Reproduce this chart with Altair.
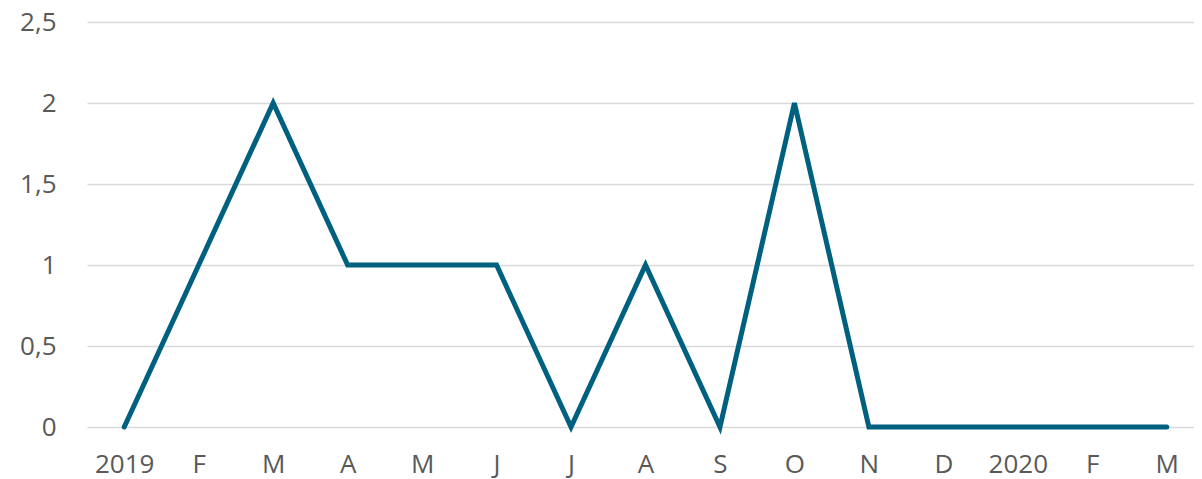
import altair as alt
import pandas as pd

labels = ["2019", "F", "M", "A", "M", "J", "J", "A", "S", "O", "N", "D", "2020", "F", "M"]
values = [0, 1, 2, 1, 1, 1, 0, 1, 0, 2, 0, 0, 0, 0, 0]

df = pd.DataFrame({"idx": list(range(len(labels))), "label": labels, "value": values})

label_expr = "[" + ",".join(f"'{l}'" for l in labels) + "][datum.value]"

chart = alt.Chart(df).mark_line(color="#00607F", strokeWidth=5, strokeCap="round", strokeJoin="miter").encode(
    x=alt.X("idx:O", scale=alt.Scale(type="point", range=[0, 1117], padding=0.5),
            axis=alt.Axis(title=None, labelAngle=0, labelExpr=label_expr, domain=False, ticks=False,
                          grid=False, labelFontSize=26, labelColor="#595959", labelFont="Open Sans",
                          labelPadding=24)),
    y=alt.Y("value:Q", scale=alt.Scale(domain=[0, 2.5]),
            axis=alt.Axis(title=None, values=[0, 0.5, 1, 1.5, 2, 2.5], labelExpr="replace(format(datum.value, '~g'), '.', ',')",
                          domain=False, ticks=False, gridColor="#D9D9D9", gridWidth=1.5,
                          labelFontSize=26, labelColor="#595959", labelFont="Open Sans", labelPadding=31)),
).properties(
    width=1107, height=405,
    autosize=alt.AutoSizeParams(type="none"),
    padding={"left": 79, "top": 14, "right": 0, "bottom": 52},
).configure_view(stroke=None)

chart.save("out.html", embed_options={"renderer": "svg", "actions": False})
